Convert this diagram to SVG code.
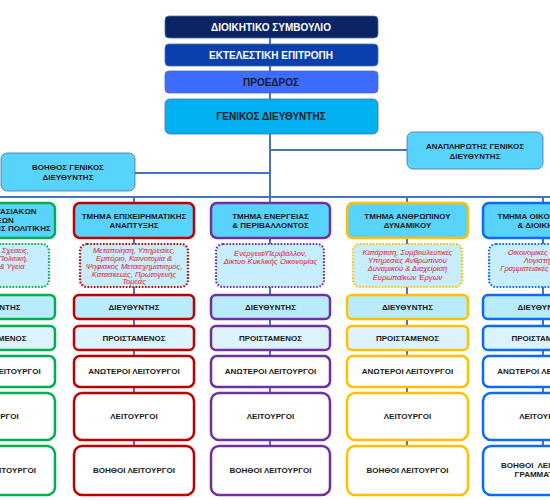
<svg xmlns="http://www.w3.org/2000/svg" width="550" height="500" viewBox="0 0 550 500">
<style>
.t{font-family:"Liberation Sans",Arial,sans-serif;font-weight:bold;text-anchor:middle;dominant-baseline:central;fill:#1a1a1a;font-size:8px}
.tw{fill:#ffffff}
.big{font-size:10px}
.d{font-family:"Liberation Sans",Arial,sans-serif;font-style:italic;text-anchor:middle;dominant-baseline:central;fill:#e5102e;font-size:7.6px}
.top{stroke:#4a6fa8;stroke-width:0.8}
.dept{fill:#58d3fb;stroke-width:2.5}
.desc{fill:#c6eefc;stroke-width:2.2;stroke-dasharray:1.6 1.6}
.dir{fill:#b8ebfb;stroke-width:2.5}
.pro{fill:#dcf2fc;stroke-width:2.5}
.emp{fill:#ffffff;stroke-width:2.5}
.g{stroke:#00b050}.r{stroke:#c00000}.p{stroke:#7030a0}.y{stroke:#ffc000}.b{stroke:#0a6cf5}
.con{stroke:#4472c4;stroke-width:2;fill:none}
</style>
<rect width="550" height="500" fill="#ffffff"/>
<g id="connectors">
<line class="con" x1="270" y1="27" x2="270" y2="197"/>
<line class="con" x1="270" y1="150" x2="407" y2="150"/>
<line class="con" x1="135" y1="173" x2="270" y2="173"/>
<line class="con" x1="0" y1="197" x2="550" y2="197"/>
<line class="con" x1="-5" y1="197" x2="-5" y2="470"/>
<line class="con" x1="134" y1="197" x2="134" y2="470"/>
<line class="con" x1="270" y1="197" x2="270" y2="470"/>
<line class="con" x1="407" y1="197" x2="407" y2="470"/>
<line class="con" x1="543" y1="197" x2="543" y2="470"/>
</g>
<g id="board"><rect class="top" x="165" y="16" width="213" height="22" rx="4" fill="#0b2465"/><text class="t tw big" x="271" y="27">ΔΙΟΙΚΗΤΙΚΟ ΣΥΜΒΟΥΛΙΟ</text></g>
<g id="executive"><rect class="top" x="165" y="44" width="213" height="22" rx="4" fill="#0a3fae"/><text class="t tw big" x="271" y="55">ΕΚΤΕΛΕΣΤΙΚΗ ΕΠΙΤΡΟΠΗ</text></g>
<g id="president"><rect class="top" x="165" y="71" width="213" height="22" rx="4" fill="#3d6cff"/><text class="t big" x="271" y="82">ΠΡΟΕΔΡΟΣ</text></g>
<g id="gm"><rect class="top" x="165" y="99" width="213" height="35" rx="5" fill="#00b0f0"/><text class="t big" x="271" y="116.5">ΓΕΝΙΚΟΣ ΔΙΕΥΘΥΝΤΗΣ</text></g>
<g id="deputy"><rect class="top" x="407" y="132" width="136" height="37" rx="6" fill="#58d3fb"/><text class="t" x="475" y="146.5">ΑΝΑΠΛΗΡΩΤΗΣ ΓΕΝΙΚΟΣ</text><text class="t" x="475" y="156.5">ΔΙΕΥΘΥΝΤΗΣ</text></g>
<g id="assistant"><rect class="top" x="1" y="153" width="134" height="38" rx="6" fill="#58d3fb"/><text class="t" x="68" y="167">ΒΟΗΘΟΣ ΓΕΝΙΚΟΣ</text><text class="t" x="68" y="177">ΔΙΕΥΘΥΝΤΗΣ</text></g>

<g id="col1">
<rect class="dept g" x="-65" y="203" width="120" height="35" rx="6"/>
<text class="t" x="-5" y="211.5">ΤΜΗΜΑ ΕΡΓΑΣΙΑΚΩΝ</text><text class="t" x="-5" y="220">ΣΧΕΣΕΩΝ</text><text class="t" x="-5" y="228.5">ΚΑΙ ΚΟΙΝΩΝΙΚΗΣ ΠΟΛΙΤΙΚΗΣ</text>
<rect class="desc g" x="-59" y="244" width="108" height="43" rx="7"/>
<text class="d" x="-5" y="250">Εργασιακές Σχέσεις,</text><text class="d" x="-5" y="258">Κοινωνική Πολιτική,</text><text class="d" x="-5" y="266">Ασφάλεια &amp; Υγεία</text>
<rect class="dir g" x="-65" y="295" width="120" height="24" rx="5"/><text class="t" x="-5" y="307">ΔΙΕΥΘΥΝΤΗΣ</text>
<rect class="pro g" x="-65" y="326" width="120" height="24" rx="5"/><text class="t" x="-5" y="338">ΠΡΟΙΣΤΑΜΕΝΟΣ</text>
<rect class="emp g" x="-65" y="356" width="120" height="31" rx="6"/><text class="t" x="-5" y="371.5">ΑΝΩΤΕΡΟΙ ΛΕΙΤΟΥΡΓΟΙ</text>
<rect class="emp g" x="-65" y="393" width="120" height="47" rx="8"/><text class="t" x="-5" y="416.5">ΛΕΙΤΟΥΡΓΟΙ</text>
<rect class="emp g" x="-65" y="446" width="120" height="49" rx="8"/><text class="t" x="-5" y="470.5">ΒΟΗΘΟΙ ΛΕΙΤΟΥΡΓΟΙ</text>
</g>

<g id="col2">
<rect class="dept r" x="74" y="203" width="120" height="35" rx="6"/>
<text class="t" x="134" y="216">ΤΜΗΜΑ ΕΠΙΧΕΙΡΗΜΑΤΙΚΗΣ</text><text class="t" x="134" y="225.5">ΑΝΑΠΤΥΞΗΣ</text>
<rect class="desc r" x="80" y="244" width="108" height="43" rx="7"/>
<text class="d" x="134" y="250">Μεταποίηση, Υπηρεσίες,</text><text class="d" x="134" y="258">Εμπόριο, Καινοτομία &amp;</text><text class="d" x="134" y="266">Ψηφιακός Μετασχηματισμός,</text><text class="d" x="134" y="274">Κατασκευές, Πρωτογενής</text><text class="d" x="134" y="281.5">Τομέας</text>
<rect class="dir r" x="74" y="295" width="120" height="24" rx="5"/><text class="t" x="134" y="307">ΔΙΕΥΘΥΝΤΗΣ</text>
<rect class="pro r" x="74" y="326" width="120" height="24" rx="5"/><text class="t" x="134" y="338">ΠΡΟΙΣΤΑΜΕΝΟΣ</text>
<rect class="emp r" x="74" y="356" width="120" height="31" rx="6"/><text class="t" x="134" y="371.5">ΑΝΩΤΕΡΟΙ ΛΕΙΤΟΥΡΓΟΙ</text>
<rect class="emp r" x="74" y="393" width="120" height="47" rx="8"/><text class="t" x="134" y="416.5">ΛΕΙΤΟΥΡΓΟΙ</text>
<rect class="emp r" x="74" y="446" width="120" height="49" rx="8"/><text class="t" x="134" y="470.5">ΒΟΗΘΟΙ ΛΕΙΤΟΥΡΓΟΙ</text>
</g>

<g id="col3">
<rect class="dept p" x="211" y="203" width="119" height="35" rx="6"/>
<text class="t" x="270.5" y="216">ΤΜΗΜΑ ΕΝΕΡΓΕΙΑΣ</text><text class="t" x="270.5" y="225">&amp; ΠΕΡΙΒΑΛΛΟΝΤΟΣ</text>
<rect class="desc p" x="216" y="244" width="108" height="43" rx="7"/>
<text class="d" x="270.5" y="253">Ενέργεια/Περιβάλλον,</text><text class="d" x="270.5" y="261">Δίκτυο Κυκλικής Οικονομίας</text>
<rect class="dir p" x="211" y="295" width="119" height="24" rx="5"/><text class="t" x="270.5" y="307">ΔΙΕΥΘΥΝΤΗΣ</text>
<rect class="pro p" x="211" y="326" width="119" height="24" rx="5"/><text class="t" x="270.5" y="338">ΠΡΟΙΣΤΑΜΕΝΟΣ</text>
<rect class="emp p" x="211" y="356" width="119" height="31" rx="6"/><text class="t" x="270.5" y="371.5">ΑΝΩΤΕΡΟΙ ΛΕΙΤΟΥΡΓΟΙ</text>
<rect class="emp p" x="211" y="393" width="119" height="47" rx="8"/><text class="t" x="270.5" y="416.5">ΛΕΙΤΟΥΡΓΟΙ</text>
<rect class="emp p" x="211" y="446" width="119" height="49" rx="8"/><text class="t" x="270.5" y="470.5">ΒΟΗΘΟΙ ΛΕΙΤΟΥΡΓΟΙ</text>
</g>

<g id="col4">
<rect class="dept y" x="347" y="203" width="121" height="35" rx="6"/>
<text class="t" x="407.5" y="216">ΤΜΗΜΑ ΑΝΘΡΩΠΙΝΟΥ</text><text class="t" x="407.5" y="225">ΔΥΝΑΜΙΚΟΥ</text>
<rect class="desc y" x="353" y="244" width="109" height="43" rx="7"/>
<text class="d" x="407.5" y="252">Κατάρτιση, Συμβουλευτικές</text><text class="d" x="407.5" y="260">Υπηρεσίες Ανθρώπινου</text><text class="d" x="407.5" y="268.5">Δυναμικού &amp; Διαχείριση</text><text class="d" x="407.5" y="277">Ευρωπαϊκών Έργων</text>
<rect class="dir y" x="347" y="295" width="121" height="24" rx="5"/><text class="t" x="407.5" y="307">ΔΙΕΥΘΥΝΤΗΣ</text>
<rect class="pro y" x="347" y="326" width="121" height="24" rx="5"/><text class="t" x="407.5" y="338">ΠΡΟΙΣΤΑΜΕΝΟΣ</text>
<rect class="emp y" x="347" y="356" width="121" height="31" rx="6"/><text class="t" x="407.5" y="371.5">ΑΝΩΤΕΡΟΙ ΛΕΙΤΟΥΡΓΟΙ</text>
<rect class="emp y" x="347" y="393" width="121" height="47" rx="8"/><text class="t" x="407.5" y="416.5">ΛΕΙΤΟΥΡΓΟΙ</text>
<rect class="emp y" x="347" y="446" width="121" height="49" rx="8"/><text class="t" x="407.5" y="470.5">ΒΟΗΘΟΙ ΛΕΙΤΟΥΡΓΟΙ</text>
</g>

<g id="col5">
<rect class="dept b" x="483" y="203" width="120" height="35" rx="6"/>
<text class="t" x="543" y="216">ΤΜΗΜΑ ΟΙΚΟΝΟΜΙΚΩΝ</text><text class="t" x="543" y="225">&amp; ΔΙΟΙΚΗΣΗΣ</text>
<rect class="desc b" x="489" y="244" width="108" height="43" rx="7"/>
<text class="d" x="543" y="252">Οικονομικές Μελέτες,</text><text class="d" x="543" y="260">Λογιστήριο,</text><text class="d" x="543" y="268.5">Γραμματειακές Υπηρεσίες</text>
<rect class="dir b" x="483" y="295" width="120" height="24" rx="5"/><text class="t" x="543" y="307">ΔΙΕΥΘΥΝΤΗΣ</text>
<rect class="pro b" x="483" y="326" width="120" height="24" rx="5"/><text class="t" x="543" y="338">ΠΡΟΙΣΤΑΜΕΝΟΣ</text>
<rect class="emp b" x="483" y="356" width="120" height="31" rx="6"/><text class="t" x="543" y="371.5">ΑΝΩΤΕΡΟΙ ΛΕΙΤΟΥΡΓΟΙ</text>
<rect class="emp b" x="483" y="393" width="120" height="47" rx="8"/><text class="t" x="543" y="416.5">ΛΕΙΤΟΥΡΓΟΙ</text>
<rect class="emp b" x="483" y="446" width="120" height="49" rx="8"/><text class="t" x="543" y="465" style="white-space:pre">ΒΟΗΘΟΙ  ΛΕΙΤΟΥΡΓΟΙ</text><text class="t" x="543" y="474">ΓΡΑΜΜΑΤΕΙΑΣ</text>
</g>
</svg>
